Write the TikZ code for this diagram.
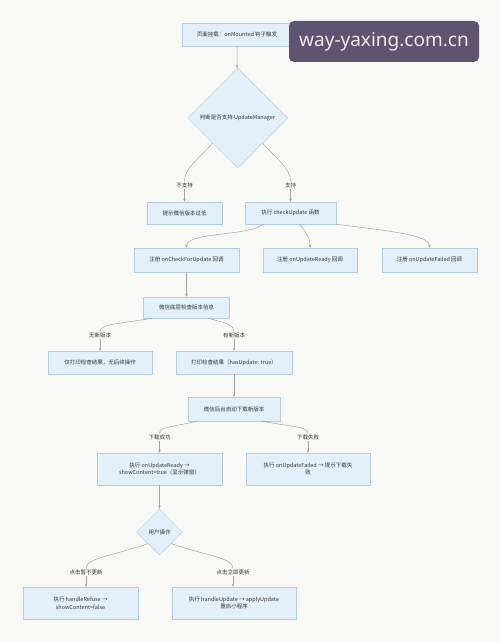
\documentclass[tikz,border=0pt]{standalone}
\usepackage{fontspec}
\newfontfamily\cjk{Noto Sans CJK SC}
\newfontfamily\wmfont{Noto Sans}
\usetikzlibrary{shapes.geometric,arrows.meta,calc}
\definecolor{boxfill}{HTML}{E4F0F9}
\definecolor{boxline}{HTML}{B3CCDD}
\definecolor{edgegray}{HTML}{A3A3A3}
\definecolor{wmback}{HTML}{5E5470}
\definecolor{bgpaper}{HTML}{F8F8F5}
\begin{document}
\begin{tikzpicture}[x=1pt,y=-1pt,
  box/.style={draw=boxline,fill=boxfill,line width=0.5pt,inner sep=0pt,text=black!80,align=center,font=\cjk\fontsize{5.5}{7.5}\selectfont},
  decide/.style={diamond,aspect=1,draw=boxline,fill=boxfill,line width=0.5pt,inner sep=0pt,text=black!80,font=\cjk\fontsize{5.5}{7}\selectfont},
  lbl/.style={inner sep=1pt,text=black!80,font=\cjk\fontsize{5.5}{7}\selectfont},
  edge/.style={draw=edgegray,line width=0.5pt},
  arr/.style={edge,-{Stealth[length=3pt,width=2.6pt]}}]
\fill[bgpaper] (0,0) rectangle (500,642);
\useasboundingbox (0,0) rectangle (500,642);

\node[box,minimum width=110pt,minimum height=23pt] (mount) at (237,34.5) {页面挂载：onMounted 钩子触发};
\node[decide,minimum width=100pt,minimum height=100pt] (support) at (237.5,118) {判断是否支持 UpdateManager};
\node[lbl] (no) at (184.5,185) {不支持};
\node[lbl] (yes) at (290.5,185) {支持};
\node[box,minimum width=75pt,minimum height=22pt] (low) at (184.5,213) {提示微信版本过低};
\node[box,minimum width=91pt,minimum height=22pt] (check) at (290.5,213) {执行 checkUpdate 函数};
\node[box,minimum width=105pt,minimum height=24pt] (regcheck) at (186.5,260) {注册 onCheckForUpdate 回调};
\node[box,minimum width=94pt,minimum height=24pt] (regready) at (310,260) {注册 onUpdateReady 回调};
\node[box,minimum width=95pt,minimum height=24pt] (regfail) at (429.5,260) {注册 onUpdateFailed 回调};
\node[box,minimum width=86pt,minimum height=21pt] (query) at (186.5,307.5) {微信底层检查版本信息};
\node[lbl] (nonew) at (100,335) {无新版本};
\node[lbl] (hasnew) at (234,335) {有新版本};
\node[box,minimum width=104pt,minimum height=23pt] (printonly) at (100,362.5) {仅打印检查结果，无后续操作};
\node[box,minimum width=116pt,minimum height=23pt] (printres) at (234,362.5) {打印检查结果（hasUpdate: true）};
\node[box,minimum width=92pt,minimum height=24pt] (download) at (234,409) {微信后台自动下载新版本};
\node[lbl] (ok) at (159.5,437) {下载成功};
\node[lbl] (fail) at (308,437) {下载失败};
\node[box,minimum width=125pt,minimum height=32pt] (ready) at (159.5,469) {执行 onUpdateReady →\\showContent=true（显示弹窗）};
\node[box,minimum width=124pt,minimum height=32pt] (failed) at (308,469) {执行 onUpdateFailed → 提示下载失\\败};
\node[decide,minimum width=46pt,minimum height=46pt] (user) at (159.5,532) {用户操作};
\node[lbl] (later) at (86,572) {点击暂不更新};
\node[lbl] (now) at (233,572) {点击立即更新};
\node[box,minimum width=115pt,minimum height=32pt] (refuse) at (80.5,603) {执行 handleRefuse →\\showContent=false};
\node[box,minimum width=124pt,minimum height=32pt] (update) at (234,603) {执行 handleUpdate → applyUpdate\\重启小程序};

\draw[arr] (mount) -- (support);
\draw[edge] (support.south west) .. controls (198,160) and (184.5,168) .. (no.north);
\draw[arr] (no.south) -- (no.south |- low.north);
\draw[edge] (support.south east) .. controls (277,160) and (290.5,168) .. (yes.north);
\draw[arr] (yes.south) -- (yes.south |- check.north);
\draw[arr] ($(check.south west)!0.2!(check.south east)$) .. controls (250,236) and (186.5,232) .. (regcheck.north);
\draw[arr] ($(check.south west)!0.6!(check.south east)$) .. controls (306,232) and (310,238) .. (regready.north);
\draw[arr] (check.south east) .. controls (400,232) and (429.5,236) .. (regfail.north);
\draw[arr] (regcheck) -- (query);
\draw[edge] ($(query.south west)!0.1!(query.south east)$) .. controls (118,324) and (100,324) .. (nonew.north);
\draw[arr] (nonew.south) -- (nonew.south |- printonly.north);
\draw[edge] ($(query.south west)!0.75!(query.south east)$) .. controls (226,323) and (234,325) .. (hasnew.north);
\draw[arr] (hasnew.south) -- (hasnew.south |- printres.north);
\draw[arr] (printres) -- (download);
\draw[edge] ($(download.south west)!0.1!(download.south east)$) .. controls (172,427) and (159.5,427) .. (ok.north);
\draw[arr] (ok.south) -- (ok.south |- ready.north);
\draw[edge] ($(download.south west)!0.8!(download.south east)$) .. controls (294,427) and (308,427) .. (fail.north);
\draw[arr] (fail.south) -- (fail.south |- failed.north);
\draw[arr] (ready) -- (user);
\draw[edge] (user.south west) .. controls (112,556) and (86,558) .. (later.north);
\draw[arr] (later.south) -- (later.south |- refuse.north);
\draw[edge] (user.south east) .. controls (208,556) and (233,558) .. (now.north);
\draw[arr] (now.south) -- (now.south |- update.north);

\node[fill=wmback,rounded corners=5pt,minimum width=190pt,minimum height=41pt,inner sep=0pt,text=white!92!black,font=\wmfont\fontsize{19}{19}\selectfont] (wm) at (384,41.5) {way-yaxing.com.cn};
\end{tikzpicture}
\end{document}
